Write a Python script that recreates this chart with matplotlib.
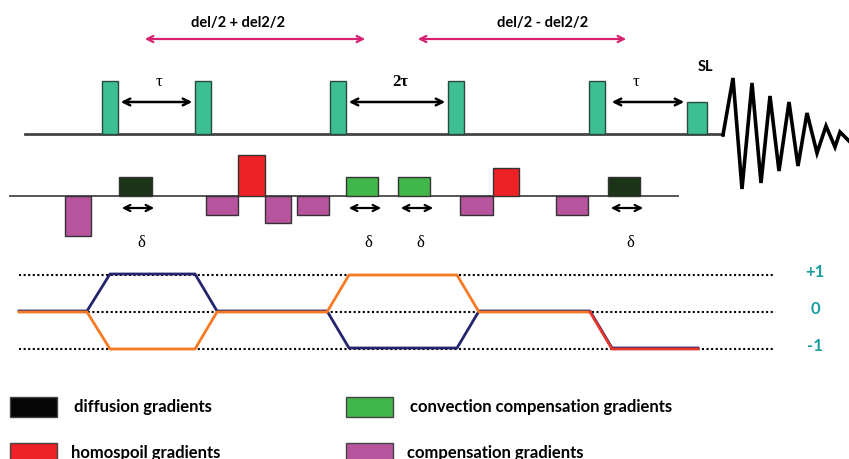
import matplotlib
matplotlib.use("Agg")
import matplotlib.pyplot as plt
from matplotlib.patches import Rectangle

# ---- data (diagram units = pixels of the original drawing) ----
rf_base = 135
pulse_x = [102, 195, 330, 448, 589]
pulse_w = [16, 16, 16, 16, 16]
pulse_h = [53, 53, 53, 53, 53]
sl_x, sl_w, sl_h = 687, 20, 32

tau_arrows = [(118, 195), (346, 448), (609, 687)]
tau_labels = ["τ", "2τ", "τ"]
tau_label_x = [159, 400, 636]

delay_arrows = [(142, 368), (415, 629)]
delay_labels = ["del/2 + del2/2", "del/2 - del2/2"]
delay_label_x = [238, 543]

fid_x = [723, 733, 742, 752, 761, 770, 779, 789, 798, 807, 817, 826, 835, 840, 849]
fid_y = [136, 79, 190, 84, 184, 97, 172, 103, 167, 114, 154, 127, 148, 133, 142]

g_base = 197
grad_start = [65, 119, 206, 238, 265, 297, 346, 398, 460, 493, 556, 608]
grad_end = [91, 152, 238, 265, 291, 329, 378, 430, 493, 519, 588, 640]
grad_amp = [-40, 19, -19, 41, -27, -19, 19, 19, -19, 28, -19, 19]
grad_kind = ["comp", "diff", "comp", "homo", "comp", "comp",
             "conv", "conv", "comp", "homo", "comp", "diff"]
kind_color = {"diff": "#1b3418", "homo": "#ee2226",
              "conv": "#41b64a", "comp": "#b8539e"}
delta_x = [119, 346, 398, 608]
delta_len = 38

levels = [1, 0, -1]
level_labels = ["+1", "0", "-1"]
level_y0, level_step = 313, 37
path_x = [19, 87, 110, 195, 217, 327, 349, 457, 479, 590, 612, 698]
navy_p = [0, 0, 1, 1, 0, 0, -1, -1, 0, 0, -1, -1]
orange_p = [0, 0, -1, -1, 0, 0, 1, 1, 0, 0, -1, -1]

legend_items = [("diffusion gradients", "#050505"),
                ("homospoil gradients", "#ee2226"),
                ("convection compensation gradients", "#41b64a"),
                ("compensation gradients", "#b8539e")]
leg_x = [10, 10, 346, 346]
leg_y = [398, 444, 398, 444]
leg_text_x = [74, 71, 410, 407]

teal = "#1a9e9e"
pink = "#d42270"
bold = dict(family=["Lato", "DejaVu Sans"], weight="bold")
serif = dict(family=["Liberation Serif", "DejaVu Serif"])

fig = plt.figure(figsize=(8.49, 4.60), dpi=100)
ax = fig.add_axes([0, 0, 1, 1])
ax.set_xlim(0, 849)
ax.set_ylim(460, 0)
ax.axis("off")

# RF line, pulses, FID
ax.plot([25, 723], [rf_base, rf_base], color="#444444", lw=2, zorder=1)
for x, w, h in zip(pulse_x, pulse_w, pulse_h):
    ax.add_patch(Rectangle((x, rf_base - h), w, h, fc="#3dbe93", ec="#2b4a3c", lw=1, zorder=3))
ax.add_patch(Rectangle((sl_x, rf_base - sl_h), sl_w, sl_h, fc="#3dbe93", ec="#2b4a3c", lw=1, zorder=3))
ax.text(sl_x + 18, 67, "SL", ha="center", va="center", fontsize=10.5, **bold)
ax.plot(fid_x, fid_y, color="black", lw=2.6, solid_joinstyle="miter", zorder=2)

for (x0, x1), lab, lx in zip(tau_arrows, tau_labels, tau_label_x):
    ax.annotate("", xy=(x1, 103), xytext=(x0, 103),
                arrowprops=dict(arrowstyle="<->", lw=1.8, color="black", mutation_scale=12))
    if lab == "2τ":
        ax.text(lx, 82, lab, ha="center", va="center", fontsize=12, weight="bold", **serif)
    else:
        ax.text(lx, 82, lab, ha="center", va="center", fontsize=12, **serif)

for (x0, x1), lab, lx in zip(delay_arrows, delay_labels, delay_label_x):
    ax.annotate("", xy=(x1, 40), xytext=(x0, 40),
                arrowprops=dict(arrowstyle="<->", lw=1.6, color=pink, mutation_scale=11))
    ax.text(lx, 23, lab, ha="center", va="center", fontsize=10.5, **bold)

# gradients
ax.plot([10, 678], [g_base, g_base], color="#555555", lw=1.4, zorder=1)
for s, e, a, k in zip(grad_start, grad_end, grad_amp, grad_kind):
    ax.add_patch(Rectangle((s, g_base), e - s, -a, fc=kind_color[k], ec="#333333", lw=1, zorder=3))
for x in delta_x:
    ax.annotate("", xy=(x + delta_len, 209), xytext=(x, 209),
                arrowprops=dict(arrowstyle="<->", lw=1.6, color="black", mutation_scale=11))
    ax.text(x + 22, 243, "δ", ha="center", va="center", fontsize=12, **serif)

# coherence pathways
for lv, lab in zip(levels, level_labels):
    y = level_y0 - lv * level_step
    ax.plot([19, 773], [y, y], color="black", lw=1.5, ls=(0, (1, 1.2)), zorder=1)
    ax.text(815, y - 4, lab, ha="center", va="center", fontsize=12, color=teal, **bold)
ax.plot(path_x, [level_y0 - p * level_step - 1 for p in navy_p], color="#24246e", lw=2, zorder=2)
ax.plot(path_x[:10], [level_y0 - p * level_step for p in orange_p[:10]], color="#f57a23", lw=2, zorder=3)
ax.plot(path_x[9:], [level_y0 - p * level_step for p in orange_p[9:]], color="#e8362a", lw=2, zorder=3)

# legend
for (lab, c), x, y, tx in zip(legend_items, leg_x, leg_y, leg_text_x):
    ax.add_patch(Rectangle((x, y), 47, 20, fc=c, ec="#444444", lw=1, zorder=3))
    ax.text(tx, y + 9, lab, ha="left", va="center", fontsize=12, **bold)

fig.savefig("out.png", dpi=100)
